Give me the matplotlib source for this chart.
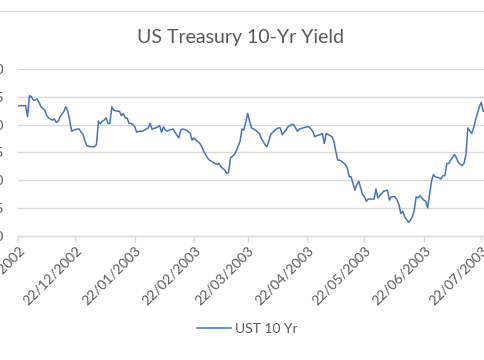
import matplotlib
matplotlib.use("Agg")
import matplotlib.pyplot as plt
import matplotlib.dates as mdates
from matplotlib.lines import Line2D
import pandas as pd

# ---------------- data ----------------
title = "US Treasury 10-Yr Yield"
series_name = "UST 10 Yr"

dates = [
    "2002-11-22", "2002-11-26", "2002-11-27", "2002-11-28", "2002-11-29", "2002-11-30",
    "2002-12-01", "2002-12-02", "2002-12-03", "2002-12-04", "2002-12-06", "2002-12-07",
    "2002-12-08", "2002-12-10", "2002-12-11", "2002-12-12", "2002-12-13", "2002-12-14",
    "2002-12-16", "2002-12-17", "2002-12-18", "2002-12-19", "2002-12-20", "2002-12-21",
    "2002-12-23", "2002-12-24", "2002-12-25", "2002-12-26", "2002-12-27", "2002-12-28",
    "2002-12-30", "2003-01-01", "2003-01-02", "2003-01-03", "2003-01-04", "2003-01-05",
    "2003-01-06", "2003-01-07", "2003-01-08", "2003-01-09", "2003-01-10", "2003-01-11",
    "2003-01-13", "2003-01-14", "2003-01-15", "2003-01-16", "2003-01-17", "2003-01-18",
    "2003-01-19", "2003-01-20", "2003-01-21", "2003-01-22", "2003-01-23", "2003-01-24",
    "2003-01-26", "2003-01-27", "2003-01-29", "2003-01-30", "2003-01-31", "2003-02-02",
    "2003-02-03", "2003-02-04", "2003-02-05", "2003-02-06", "2003-02-07", "2003-02-08",
    "2003-02-09", "2003-02-11", "2003-02-12", "2003-02-14", "2003-02-15", "2003-02-16",
    "2003-02-18", "2003-02-20", "2003-02-21", "2003-02-22", "2003-02-23", "2003-02-25",
    "2003-02-26", "2003-02-27", "2003-03-01", "2003-03-02", "2003-03-03", "2003-03-05",
    "2003-03-06", "2003-03-07", "2003-03-08", "2003-03-10", "2003-03-11", "2003-03-12",
    "2003-03-13", "2003-03-15", "2003-03-16", "2003-03-18", "2003-03-19", "2003-03-20",
    "2003-03-22", "2003-03-23", "2003-03-24", "2003-03-26", "2003-03-28", "2003-03-29",
    "2003-03-31", "2003-04-01", "2003-04-02", "2003-04-03", "2003-04-04", "2003-04-06",
    "2003-04-07", "2003-04-08", "2003-04-09", "2003-04-11", "2003-04-12", "2003-04-14",
    "2003-04-15", "2003-04-17", "2003-04-18", "2003-04-20", "2003-04-22", "2003-04-23",
    "2003-04-25", "2003-04-26", "2003-04-27", "2003-04-29", "2003-04-30", "2003-05-01",
    "2003-05-02", "2003-05-03", "2003-05-05", "2003-05-06", "2003-05-07", "2003-05-08",
    "2003-05-09", "2003-05-10", "2003-05-12", "2003-05-13", "2003-05-14", "2003-05-15",
    "2003-05-17", "2003-05-18", "2003-05-19", "2003-05-20", "2003-05-21", "2003-05-22",
    "2003-05-23", "2003-05-24", "2003-05-26", "2003-05-27", "2003-05-28", "2003-05-29",
    "2003-05-30", "2003-06-01", "2003-06-03", "2003-06-04", "2003-06-05", "2003-06-07",
    "2003-06-08", "2003-06-09", "2003-06-10", "2003-06-11", "2003-06-12", "2003-06-14",
    "2003-06-15", "2003-06-16", "2003-06-17", "2003-06-18", "2003-06-19", "2003-06-20",
    "2003-06-22", "2003-06-23", "2003-06-24", "2003-06-25", "2003-06-26", "2003-06-27",
    "2003-06-28", "2003-06-30", "2003-07-01", "2003-07-02", "2003-07-03", "2003-07-04",
    "2003-07-05", "2003-07-06", "2003-07-08", "2003-07-09", "2003-07-10", "2003-07-12",
    "2003-07-13", "2003-07-14", "2003-07-15", "2003-07-17", "2003-07-18", "2003-07-19",
    "2003-07-20", "2003-07-21", "2003-07-22", "2003-07-23", "2003-07-24",
]

yields = [
    4.17, 4.17, 4.07, 4.26, 4.25, 4.22,
    4.22, 4.23, 4.20, 4.16, 4.13, 4.08,
    4.06, 4.04, 4.05, 4.02, 4.03, 4.07,
    4.12, 4.16, 4.12, 4.04, 3.94, 3.95,
    3.96, 3.96, 3.93, 3.91, 3.85, 3.81,
    3.80, 3.80, 3.82, 4.03, 4.01, 4.03,
    4.04, 4.06, 4.01, 4.01, 4.16, 4.13,
    4.12, 4.12, 4.08, 4.10, 4.06, 4.06,
    4.01, 4.01, 4.00, 3.98, 3.93, 3.94,
    3.94, 3.95, 3.97, 4.01, 3.96, 3.97,
    3.98, 3.99, 3.93, 3.98, 3.95, 3.94,
    3.95, 3.96, 3.93, 3.88, 3.95, 3.96,
    3.95, 3.92, 3.86, 3.88, 3.86, 3.83,
    3.80, 3.76, 3.70, 3.68, 3.67, 3.65,
    3.64, 3.65, 3.62, 3.59, 3.56, 3.57,
    3.70, 3.73, 3.76, 3.85, 3.96, 3.95,
    4.10, 4.03, 3.97, 3.95, 3.92, 3.88,
    3.82, 3.80, 3.85, 3.91, 3.93, 3.96,
    3.97, 3.97, 3.91, 3.95, 3.98, 4.00,
    4.00, 3.94, 3.96, 3.97, 3.98, 3.98,
    3.94, 3.89, 3.90, 3.91, 3.92, 3.83,
    3.92, 3.91, 3.89, 3.85, 3.76, 3.68,
    3.68, 3.67, 3.64, 3.61, 3.53, 3.53,
    3.41, 3.46, 3.49, 3.43, 3.37, 3.35,
    3.31, 3.33, 3.33, 3.33, 3.42, 3.34,
    3.36, 3.40, 3.41, 3.32, 3.35, 3.35,
    3.32, 3.28, 3.20, 3.22, 3.17, 3.12,
    3.14, 3.17, 3.23, 3.35, 3.34, 3.36,
    3.32, 3.31, 3.25, 3.37, 3.49, 3.55,
    3.53, 3.52, 3.51, 3.54, 3.54, 3.65,
    3.65, 3.68, 3.73, 3.70, 3.66, 3.63,
    3.65, 3.73, 3.97, 3.92, 3.97, 4.04,
    4.10, 4.16, 4.20, 4.12, 4.12,
]

x_ticks = ["2002-11-22", "2002-12-22", "2003-01-22", "2003-02-22", "2003-03-22",
           "2003-04-22", "2003-05-22", "2003-06-22", "2003-07-22"]
y_ticks = [3.00, 3.25, 3.50, 3.75, 4.00, 4.25, 4.50]
x_range = ["2002-11-22", "2003-07-25"]

# ---------------- style ----------------
FONT = "Lato"
TXT = "#595959"
GRID = "#D9D9D9"
LINE = "#4472C4"

W, H = 485, 360
fig = plt.figure(figsize=(W / 100, H / 100), dpi=100)
fig.patch.set_facecolor("white")

# plot area (extends slightly past the right edge, like the cropped source)
left_px, right_px = 18, 487
top_px, bottom_px = 69, 235.7
ax = fig.add_axes([left_px / W, 1 - bottom_px / H,
                   (right_px - left_px) / W, (bottom_px - top_px) / H])

d = pd.to_datetime(dates)
ax.plot(d, yields, color=LINE, lw=1.1, solid_joinstyle="round", label=series_name, zorder=3)

ax.set_xlim(pd.to_datetime(x_range[0]), pd.to_datetime(x_range[1]))
ax.set_ylim(y_ticks[0], y_ticks[-1])
ax.set_yticks(y_ticks)
ax.set_yticklabels([f"{v:.2f}" for v in y_ticks])
ax.set_xticks(pd.to_datetime(x_ticks))
ax.xaxis.set_major_formatter(mdates.DateFormatter("%d/%m/%Y"))

ax.grid(axis="y", color=GRID, lw=1.0)
ax.set_axisbelow(True)
for s in ["top", "right", "left"]:
    ax.spines[s].set_visible(False)
ax.spines["bottom"].set_color(GRID)
ax.spines["bottom"].set_linewidth(1.0)

ax.tick_params(axis="y", length=0, pad=10, labelsize=10, labelcolor=TXT)
ax.tick_params(axis="x", length=4, width=1.0, color=GRID, pad=2, labelsize=10, labelcolor=TXT)
for lab in ax.get_xticklabels() + ax.get_yticklabels():
    lab.set_fontfamily(FONT)
for lab in ax.get_xticklabels():
    lab.set_rotation(45)
    lab.set_ha("right")
    lab.set_va("top")
    lab.set_rotation_mode("anchor")

# title
fig.text(241 / W, 1 - 37.5 / H, title, ha="center", va="center",
         fontsize=14, color=TXT, fontfamily=FONT)

# legend
handle = Line2D([], [], color=LINE, lw=1.1)
fig.legend([handle], [series_name], loc="center", bbox_to_anchor=(247.5 / W, 1 - 329 / H),
           frameon=False, prop={"family": FONT, "size": 10}, labelcolor=TXT,
           handlelength=2.4, handletextpad=0.3, borderpad=0, borderaxespad=0)

# chart-area border line at the top
fig.add_artist(Line2D([0, 1], [1 - 11 / H, 1 - 11 / H], transform=fig.transFigure,
                      color=GRID, lw=1.0))

fig.savefig("out.png", dpi=100, facecolor="white")
